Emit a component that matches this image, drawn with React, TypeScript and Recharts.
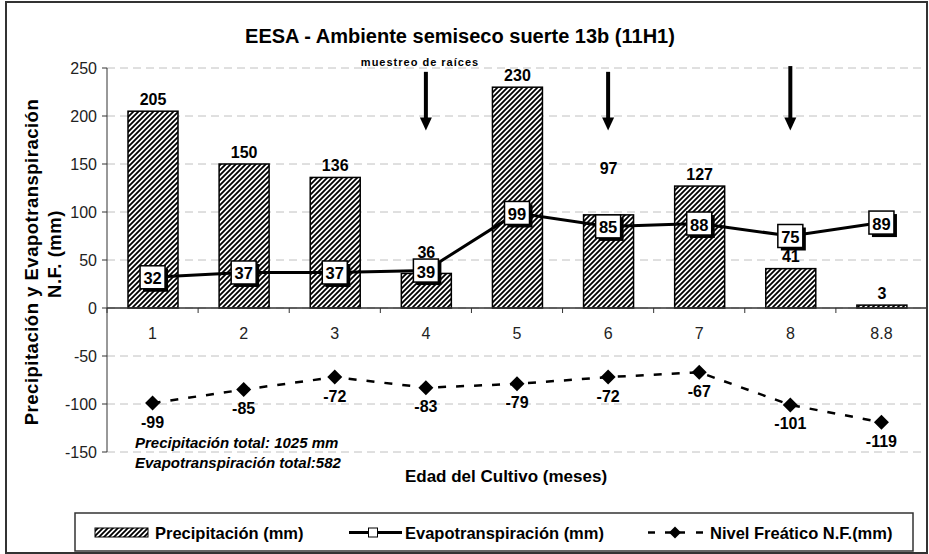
import React from 'react';
import {
  ComposedChart,
  Bar,
  Line,
  XAxis,
  YAxis,
  CartesianGrid,
  ReferenceLine,
  ReferenceDot,
  LabelList,
  Legend,
} from 'recharts';

// ---------- data ----------
const categories = ['1', '2', '3', '4', '5', '6', '7', '8', '8.8'];
const precipitacion = [205, 150, 136, 36, 230, 97, 127, 41, 3];
const evapotranspiracion = [32, 37, 37, 39, 99, 85, 88, 75, 89];
const nivelFreatico = [-99, -85, -72, -83, -79, -72, -67, -101, -119];
const yTicks = [-150, -100, -50, 0, 50, 100, 150, 200, 250];
const muestreoCats = ['4', '6', '8'];
const muestreoTop = [246, 246, 252];
const muestreoTip = [185, 185, 185];

const data = categories.map((c, i) => ({
  cat: c,
  precip: precipitacion[i],
  evapo: evapotranspiracion[i],
  nivel: nivelFreatico[i],
}));

// ---------- layout ----------
const W = 929;
const H = 554;
const M = { top: 68, right: 2, bottom: 72, left: 0 };
const Y_AXIS_W = 107;
const X_AXIS_H = 30;
const PLOT_LEFT = M.left + Y_AXIS_W;
const PLOT_W = W - M.right - PLOT_LEFT;
const PLOT_H = H - M.top - M.bottom - X_AXIS_H;
const Y_MIN = -150;
const Y_MAX = 250;
const ZERO_Y = M.top + (PLOT_H * (Y_MAX - 0)) / (Y_MAX - Y_MIN);
const BAND = PLOT_W / categories.length;
const FONT = 'Arial, "Liberation Sans", sans-serif';
// manual lift (px) of some precipitation labels, as in the original chart
const PRECIP_LABEL_LIFT: Record<number, number> = { 3: 9, 5: 34 };

const HatchPattern = ({ id }: { id: string }) => (
  <pattern id={id} patternUnits="userSpaceOnUse" width={5} height={5}>
    <rect width={5} height={5} fill="#fff" />
    <path d="M-1,1 l2,-2 M0,5 l5,-5 M4,6 l2,-2" stroke="#000" strokeWidth={1.8} />
  </pattern>
);

const HatchBar = (props: any) => {
  const { x, y, width, height } = props;
  if (height == null || width == null) return null;
  return (
    <g>
      <defs>
        <HatchPattern id="hatchBar" />
      </defs>
      <rect x={x} y={y} width={width} height={height} fill="url(#hatchBar)" stroke="#000" strokeWidth={1.5} />
    </g>
  );
};

const XTick = (props: any) => {
  const { x, payload, index } = props;
  const left = x - BAND / 2;
  return (
    <g>
      <line x1={left} y1={ZERO_Y} x2={left} y2={ZERO_Y + 5} stroke="#333" strokeWidth={1} />
      {index === categories.length - 1 && (
        <line x1={x + BAND / 2} y1={ZERO_Y} x2={x + BAND / 2} y2={ZERO_Y + 5} stroke="#333" strokeWidth={1} />
      )}
      <text
        x={x}
        y={ZERO_Y + 25}
        textAnchor="middle"
        dominantBaseline="central"
        fontSize={16}
        fill="#222"
        fontFamily={FONT}
      >
        {payload.value}
      </text>
    </g>
  );
};

const getBox = (p: any) => {
  const vb = p.viewBox || {};
  const x = p.x != null ? p.x : vb.x != null ? vb.x : 0;
  const y = p.y != null ? p.y : vb.y != null ? vb.y : 0;
  const width = p.width != null ? p.width : vb.width || 0;
  return { x, y, width };
};

const PrecipLabel = (props: any) => {
  const { x, y, width } = getBox(props);
  const lift = PRECIP_LABEL_LIFT[props.index] || 0;
  return (
    <text
      x={x + width / 2}
      y={y - 12 - lift}
      textAnchor="middle"
      dominantBaseline="central"
      fontWeight="bold"
      fontSize={16}
      fill="#000"
      fontFamily={FONT}
    >
      {props.value}
    </text>
  );
};

const EvapoLabel = (props: any) => {
  const { x, y } = getBox(props);
  const w = 25;
  const h = 23;
  return (
    <g>
      <rect x={x - w / 2 + 3} y={y - h / 2 + 3} width={w} height={h} fill="#000" />
      <rect x={x - w / 2} y={y - h / 2} width={w} height={h} fill="#fff" stroke="#000" strokeWidth={1.5} />
      <text
        x={x}
        y={y + 1}
        textAnchor="middle"
        dominantBaseline="central"
        fontWeight="bold"
        fontSize={16.5}
        fill="#000"
        fontFamily={FONT}
      >
        {props.value}
      </text>
    </g>
  );
};

const NivelLabel = (props: any) => {
  const { x, y } = getBox(props);
  return (
    <text
      x={x}
      y={y + 19}
      textAnchor="middle"
      dominantBaseline="central"
      fontWeight="bold"
      fontSize={16}
      fill="#000"
      fontFamily={FONT}
    >
      {props.value}
    </text>
  );
};

const Diamond = (props: any) => {
  const { cx, cy } = props;
  if (cx == null || cy == null) return null;
  const r = 7.5;
  return (
    <polygon
      points={`${cx},${cy - r} ${cx + r},${cy} ${cx},${cy + r} ${cx - r},${cy}`}
      fill="#000"
    />
  );
};

const ArrowHead = (props: any) => {
  const { cx, cy } = props;
  if (cx == null || cy == null) return null;
  return <polygon points={`${cx},${cy} ${cx + 6},${cy - 13} ${cx - 6},${cy - 13}`} fill="#000" />;
};

const LEG_TEXT = { fontWeight: 'bold' as const, fontSize: 16.5, fontFamily: FONT, fill: '#000' };

const LegendBox = () => (
  <svg width={840} height={40} style={{ display: 'block' }}>
    <defs>
      <HatchPattern id="hatchLeg" />
    </defs>
    <rect x={1} y={1} width={838} height={38} fill="#fff" stroke="#333" strokeWidth={1.5} />
    <rect x={21} y={16} width={53} height={9} fill="url(#hatchLeg)" stroke="#000" strokeWidth={1} />
    <text x={81} y={21} dominantBaseline="central" {...LEG_TEXT}>
      Precipitación (mm)
    </text>
    <line x1={275} x2={328} y1={20.5} y2={20.5} stroke="#000" strokeWidth={3} />
    <rect x={294.5} y={16} width={9} height={9} fill="#fff" stroke="#000" strokeWidth={1} />
    <text x={331} y={21} dominantBaseline="central" {...LEG_TEXT}>
      Evapotranspiración (mm)
    </text>
    <line x1={574} x2={581} y1={20.5} y2={20.5} stroke="#000" strokeWidth={2.5} />
    <line x1={591} x2={611} y1={20.5} y2={20.5} stroke="#000" strokeWidth={2.5} />
    <polygon points="601,14.5 607,20.5 601,26.5 595,20.5" fill="#000" />
    <line x1={622} x2={629} y1={20.5} y2={20.5} stroke="#000" strokeWidth={2.5} />
    <text x={636} y={21} dominantBaseline="central" {...LEG_TEXT}>
      Nivel Freático N.F.(mm)
    </text>
  </svg>
);

export default function App() {
  return (
    <div style={{ position: 'absolute', left: 0, top: 0, width: W, height: H, background: '#fff' }}>
      <ComposedChart width={W} height={H} data={data} margin={M}>
        <CartesianGrid vertical={false} stroke="#c0c0c0" strokeDasharray="8 5" />
        <XAxis
          dataKey="cat"
          height={X_AXIS_H}
          axisLine={false}
          tickLine={false}
          tick={<XTick />}
          interval={0}
        />
        <YAxis
          width={Y_AXIS_W}
          type="number"
          domain={[Y_MIN, Y_MAX]}
          ticks={yTicks}
          allowDataOverflow
          tick={{ fontSize: 16, fill: '#222', fontFamily: FONT }}
          tickSize={5}
          tickMargin={5}
          axisLine={{ stroke: '#333', strokeWidth: 1 }}
          tickLine={{ stroke: '#333', strokeWidth: 1 }}
        />
        <Bar dataKey="precip" name="Precipitación (mm)" barSize={50} shape={(p: any) => <HatchBar {...p} />} isAnimationActive={false}>
          <LabelList dataKey="precip" content={(p: any) => <PrecipLabel {...p} />} />
        </Bar>
        <ReferenceLine y={0} stroke="#333" strokeWidth={1.5} />
        <Line
          dataKey="nivel"
          name="Nivel Freático N.F.(mm)"
          type="linear"
          stroke="#000"
          strokeWidth={2.5}
          strokeDasharray="8 10"
          dot={(p: any) => <Diamond key={`d-${p.index}`} {...p} />}
          activeDot={false}
          isAnimationActive={false}
        >
          <LabelList dataKey="nivel" content={(p: any) => <NivelLabel {...p} />} />
        </Line>
        <Line
          dataKey="evapo"
          name="Evapotranspiración (mm)"
          type="linear"
          stroke="#000"
          strokeWidth={3}
          dot={false}
          activeDot={false}
          isAnimationActive={false}
        >
          <LabelList dataKey="evapo" content={(p: any) => <EvapoLabel {...p} />} />
        </Line>
        {muestreoCats.map((c, i) => (
          <ReferenceLine
            key={`ml-${c}`}
            segment={[
              { x: c, y: muestreoTop[i] },
              { x: c, y: muestreoTip[i] + 11 },
            ]}
            stroke="#000"
            strokeWidth={4}
            ifOverflow="visible"
          />
        ))}
        {muestreoCats.map((c, i) => (
          <ReferenceDot key={`md-${c}`} x={c} y={muestreoTip[i]} r={0} shape={(p: any) => <ArrowHead {...p} />} ifOverflow="visible" />
        ))}
        <Legend
          verticalAlign="middle"
          align="center"
          layout="horizontal"
          content={() => <LegendBox />}
          wrapperStyle={{ position: 'absolute', left: 74, top: 512, width: 840, height: 40 }}
        />
      </ComposedChart>
      <svg
        width={W}
        height={H}
        style={{ position: 'absolute', left: 0, top: 0, pointerEvents: 'none' }}
      >
        <defs>
          <clipPath id="mmClip">
            <rect x={0} y={0} width={W} height={481} />
          </clipPath>
        </defs>
        <rect x={6} y={2} width={921} height={551} fill="none" stroke="#333" strokeWidth={2} />
        <text x={460} y={36} textAnchor="middle" dominantBaseline="central" fontWeight="bold" fontSize={20} fontFamily={FONT} fill="#000">
          EESA - Ambiente semiseco suerte 13b (11H1)
        </text>
        <text x={420} y={62} textAnchor="middle" dominantBaseline="central" fontWeight="bold" fontSize={11} letterSpacing={1} fontFamily={FONT} fill="#000">
          muestreo de raíces
        </text>
        <text transform="translate(31,262) rotate(-90)" textAnchor="middle" dominantBaseline="central" fontWeight="bold" fontSize={18.5} letterSpacing={0.5} fontFamily={FONT} fill="#000">
          Precipitación y Evapotranspiración
        </text>
        <text transform="translate(54,254) rotate(-90)" textAnchor="middle" dominantBaseline="central" fontWeight="bold" fontSize={18.5} letterSpacing={0.5} fontFamily={FONT} fill="#000">
          N.F. (mm)
        </text>
        <text x={135} y={442} dominantBaseline="central" fontWeight="bold" fontStyle="italic" fontSize={15} fontFamily={FONT} fill="#000">
          Precipitación total: 1025 mm
        </text>
        <text x={135} y={462} dominantBaseline="central" fontWeight="bold" fontStyle="italic" fontSize={15} fontFamily={FONT} fill="#000">
          Evapotranspiración total:582
        </text>
        <text x={135} y={488} dominantBaseline="central" fontWeight="bold" fontStyle="italic" fontSize={15} fontFamily={FONT} fill="#000" clipPath="url(#mmClip)">
          mm
        </text>
        <text x={506} y={476} textAnchor="middle" dominantBaseline="central" fontWeight="bold" fontSize={17} fontFamily={FONT} fill="#000">
          Edad del Cultivo (meses)
        </text>
      </svg>
    </div>
  );
}
